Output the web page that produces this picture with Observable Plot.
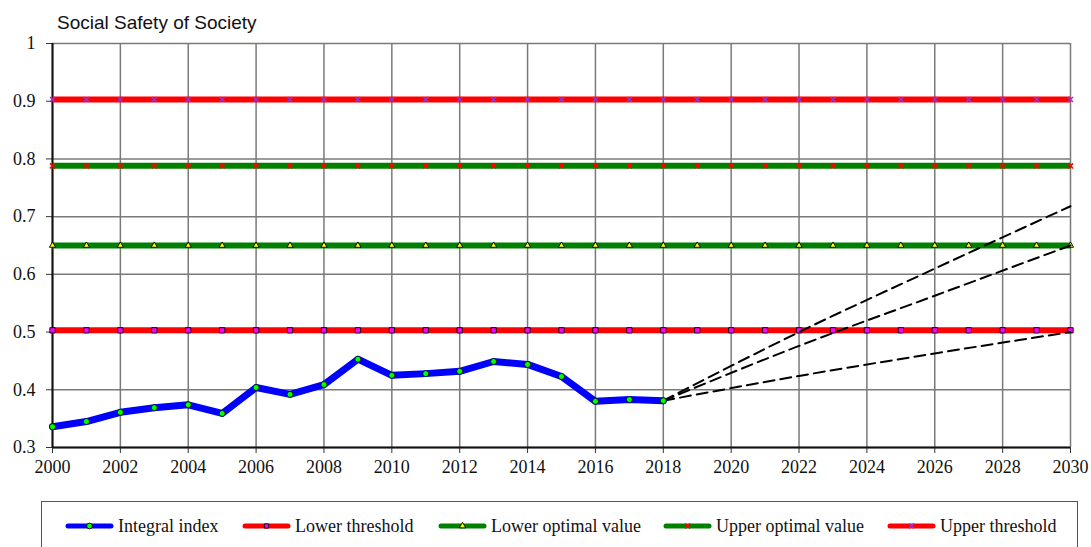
<!DOCTYPE html>
<html>
<head>
<meta charset="utf-8">
<script src="https://cdn.jsdelivr.net/npm/d3@7"></script>
<script src="https://cdn.jsdelivr.net/npm/@observablehq/plot@0.6"></script>
<style>
  html, body { margin: 0; padding: 0; background: #fff; }
  #wrap { position: relative; width: 1091px; height: 547px; overflow: hidden; }
  #title { position: absolute; left: 57px; top: 12px; font-family: "Liberation Sans", Arial, sans-serif; font-size: 19px; color: #111; }
  #chart { position: absolute; left: 0; top: 0; }
  #legend { position: absolute; left: 41px; top: 501px; width: 1037px; height: 50px; border: 1.5px solid #555; box-sizing: border-box; }
  .item { position: absolute; top: 13px; display: flex; align-items: center; font-family: "Liberation Serif", "Times New Roman", serif; font-size: 18px; color: #111; }
  .item svg { margin-right: 4px; }
</style>
</head>
<body>
<div id="wrap">
  <div id="title">Social Safety of Society</div>
  <div id="chart"></div>
  <div id="legend"></div>
</div>
<script>
// ---- data ----
const years = [2000, 2001, 2002, 2003, 2004, 2005, 2006, 2007, 2008, 2009, 2010, 2011, 2012, 2013, 2014, 2015, 2016, 2017, 2018];
const integralIndex = [0.336, 0.345, 0.361, 0.369, 0.374, 0.359, 0.404, 0.392, 0.409, 0.453, 0.425, 0.428, 0.432, 0.449, 0.444, 0.423, 0.380, 0.383, 0.381];

const horizonYears = [2000, 2001, 2002, 2003, 2004, 2005, 2006, 2007, 2008, 2009, 2010, 2011, 2012, 2013, 2014, 2015, 2016, 2017, 2018, 2019, 2020, 2021, 2022, 2023, 2024, 2025, 2026, 2027, 2028, 2029, 2030];
const thresholdNames = ["Lower threshold", "Lower optimal value", "Upper optimal value", "Upper threshold"];
const thresholdValues = [0.503, 0.650, 0.788, 0.903];

const projectionYears = [2018, 2022, 2026, 2030];
const projectionHigh = [0.381, 0.500, 0.610, 0.718];
const projectionMid = [0.381, 0.476, 0.563, 0.650];
const projectionLow = [0.381, 0.424, 0.463, 0.500];

const xTicks = [2000, 2002, 2004, 2006, 2008, 2010, 2012, 2014, 2016, 2018, 2020, 2022, 2024, 2026, 2028, 2030];
const yTicks = [0.3, 0.4, 0.5, 0.6, 0.7, 0.8, 0.9, 1.0];

// ---- styles ----
const seriesStyle = {
  "Integral index": {stroke: "#0000ff", width: 7, symbol: "circle", fill: "#00ff00", r: 3},
  "Lower threshold": {stroke: "#ff0000", width: 6, symbol: "square", fill: "#ff00ff", r: 3},
  "Lower optimal value": {stroke: "#008000", width: 6, symbol: "triangle", fill: "#ffff00", r: 2.3},
  "Upper optimal value": {stroke: "#008000", width: 6, symbol: "times", fill: "#ff0000", r: 2.4},
  "Upper threshold": {stroke: "#ff0000", width: 6, symbol: "times", fill: "#9933cc", r: 2.4}
};

// ---- tables ----
const integralData = years.map((y, i) => ({year: y, value: integralIndex[i]}));
const thresholdData = thresholdNames.flatMap((name, k) => horizonYears.map(y => ({series: name, year: y, value: thresholdValues[k]})));
const projectionData = [
  ["high", projectionHigh], ["mid", projectionMid], ["low", projectionLow]
].flatMap(([name, vals]) => projectionYears.map((y, i) => ({series: name, year: y, value: vals[i]})));

const marks = [
  Plot.gridX(xTicks, {stroke: "#7a7a7a", strokeOpacity: 1, strokeWidth: 1.5}),
  Plot.gridY(yTicks, {stroke: "#7a7a7a", strokeOpacity: 1, strokeWidth: 1.5}),
  Plot.axisX(xTicks, {tickSize: 6, tickPadding: 7, tickFormat: d => String(d), stroke: "#333", label: null}),
  Plot.axisY(yTicks, {tickSize: 6, tickPadding: 11, tickFormat: d => String(+d.toFixed(1)), stroke: "#333", label: null}),
  Plot.ruleX([2000], {stroke: "#111", strokeWidth: 2}),
  Plot.ruleY([0.3], {stroke: "#111", strokeWidth: 2})
];

// thresholds, drawn from top to bottom so the order matches the picture
["Upper threshold", "Upper optimal value", "Lower optimal value", "Lower threshold"].forEach(name => {
  const st = seriesStyle[name];
  const d = thresholdData.filter(r => r.series === name);
  marks.push(Plot.line(d, {x: "year", y: "value", stroke: st.stroke, strokeWidth: st.width, strokeLinecap: "butt"}));
  if (st.symbol === "times") {
    marks.push(Plot.dot(d, {x: "year", y: "value", symbol: "times", stroke: st.fill, strokeWidth: 1.5, r: st.r}));
  } else {
    marks.push(Plot.dot(d, {x: "year", y: "value", symbol: st.symbol, fill: st.fill, stroke: "#000", strokeWidth: 0.9, r: st.r}));
  }
});

marks.push(Plot.line(projectionData, {x: "year", y: "value", z: "series", stroke: "#000", strokeWidth: 2, strokeDasharray: "11,6", curve: "monotone-x"}));

const ist = seriesStyle["Integral index"];
marks.push(Plot.line(integralData, {x: "year", y: "value", stroke: ist.stroke, strokeWidth: ist.width, strokeLinejoin: "round", strokeLinecap: "round"}));
marks.push(Plot.dot(integralData, {x: "year", y: "value", fill: ist.fill, stroke: "#000", strokeWidth: 0.8, r: ist.r}));

const chart = Plot.plot({
  width: 1091,
  height: 485,
  marginLeft: 52,
  marginRight: 21,
  marginTop: 43,
  marginBottom: 38,
  x: {domain: [2000, 2030], label: null},
  y: {domain: [0.3, 1.0], label: null},
  style: {fontFamily: "'Liberation Serif', 'Times New Roman', serif", fontSize: "18px", color: "#111", background: "transparent", overflow: "visible"},
  marks
});
document.getElementById("chart").appendChild(chart);

// ---- legend ----
const legendItems = ["Integral index", "Lower threshold", "Lower optimal value", "Upper optimal value", "Upper threshold"];
const legendX = [23, 200, 396, 621, 845];
const legend = document.getElementById("legend");
legendItems.forEach((name, i) => {
  const st = seriesStyle[name];
  const div = document.createElement("div");
  div.className = "item";
  div.style.left = legendX[i] + "px";
  const w = 49, h = 22, cx = w / 2, cy = h / 2;
  const sym = d3.symbol(d3["symbol" + {circle: "Circle", square: "Square", triangle: "Triangle", times: "Times"}[st.symbol]], name === "Integral index" ? 26 : 18)();
  const markerStyle = st.symbol === "times"
    ? `fill="none" stroke="${st.fill}" stroke-width="1.5"`
    : `fill="${st.fill}" stroke="#000" stroke-width="0.9"`;
  div.innerHTML = `<svg width="${w}" height="${h}"><line x1="3" x2="${w - 3}" y1="${cy}" y2="${cy}" stroke="${st.stroke}" stroke-width="5" stroke-linecap="round"/><path d="${sym}" transform="translate(${cx},${cy})" ${markerStyle}/></svg><span>${name}</span>`;
  legend.appendChild(div);
});
</script>
</body>
</html>
